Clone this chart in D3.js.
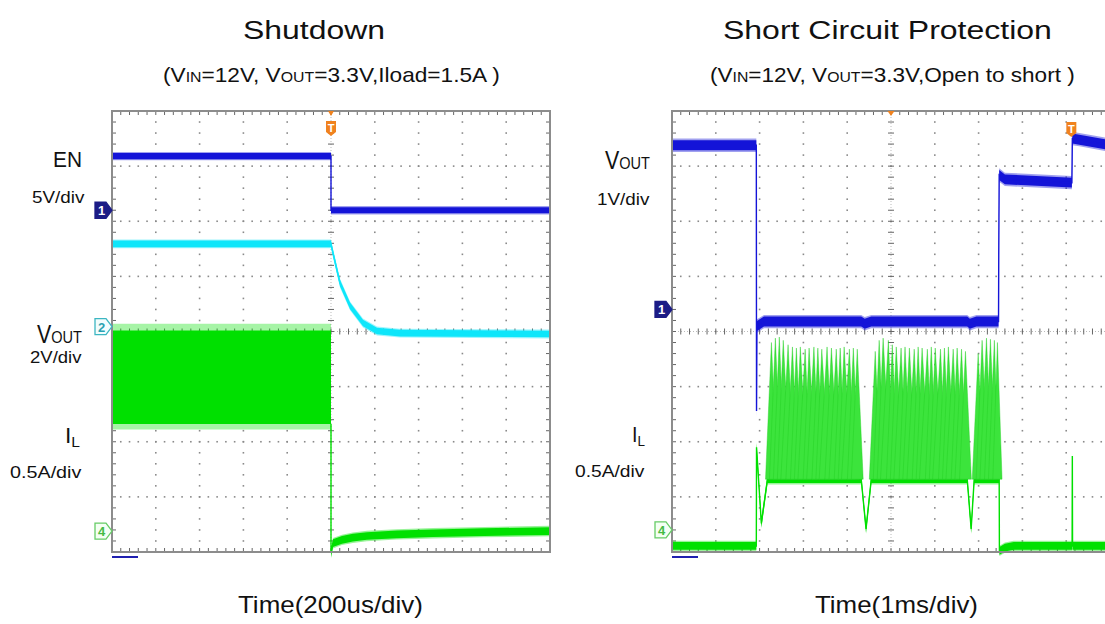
<!DOCTYPE html>
<html><head><meta charset="utf-8">
<script src="https://cdn.jsdelivr.net/npm/d3@7"></script>
<style>
body{margin:0;background:#fff;}
svg{display:block;}
text{font-family:"Liberation Sans",Arial,Helvetica,sans-serif;}
</style>
</head><body>
<svg id="c" width="1105" height="624"></svg>
<script>
// ---------------- DATA ----------------
const titles = ["Shutdown", "Short Circuit Protection"];
const xLabels = ["Time(200us/div)", "Time(1ms/div)"];

// Shutdown panel: time in µs (200 µs/div)
const sdEN_t = [-1000, 0, 0, 1000];
const sdEN_v = [4.9, 4.9, 0, 0];            // V, 5V/div
const sdEN_noise = 0.28;
const sdVout_t = [-1000, 0, 9, 41, 87, 146, 210, 315, 1000];
const sdVout_v = [3.0, 3.0, 2.67, 1.58, 0.75, 0.13, -0.16, -0.24, -0.27]; // V, 2V/div
const sdVout_noise = 0.12;
const sdILband_t = [-1000, 0];
const sdILband_min = [0.97, 0.97];           // A, 0.5A/div (switching ripple envelope)
const sdILband_max = [1.82, 1.82];
const sdIL_t = [0, 0, 9, 50, 100, 164, 300, 466, 700, 1000];
const sdIL_a = [0.97, -0.2, -0.11, -0.08, -0.06, -0.045, -0.03, -0.02, -0.01, 0];
const sdIL_noise = 0.035;

// Short circuit panel: time in ms (1 ms/div)
const scVout_t = [-5, -3.075, -3.07, -3.06, -2.9, -0.68, -0.6, -0.45, 1.74, 1.8, 1.95, 2.455, 2.46, 2.47, 2.6, 4.13, 4.14, 4.3, 5];
const scVout_v = [2.98, 2.98, -1.84, -0.3, -0.22, -0.22, -0.26, -0.22, -0.22, -0.26, -0.22, -0.22, 0.95, 2.44, 2.36, 2.3, 3.1, 3.08, 2.98]; // V, 1V/div
const scVout_noise = 0.09;
const scIL_t = [-5, -3.075, -3.07, -2.96, -2.82, -0.68, -0.57, -0.45, 1.74, 1.83, 1.90, 2.47, 2.475, 2.6, 2.8, 4.135, 4.14, 4.145, 5];
const scIL_a = [-0.145, -0.145, 0.75, 0.06, 0.46, 0.46, 0.01, 0.46, 0.46, 0.01, 0.46, 0.46, -0.19, -0.16, -0.145, -0.145, 0.67, -0.145, -0.145]; // A
const scIL_noise = 0.035;
// hiccup bursts: inductor current peaks
const burst1T = [-2.73,-2.64,-2.55,-2.46,-2.35,-2.25,-2.16,-2.07,-1.96,-1.87,-1.76,-1.67,-1.58,-1.46,-1.36,-1.25,-1.16,-1.07,-0.95,-0.86,-0.77];
const burst1A = [1.70,1.74,1.75,1.72,1.68,1.66,1.65,1.66,1.64,1.65,1.66,1.65,1.64,1.66,1.65,1.64,1.65,1.66,1.64,1.65,1.64];
const burst2T = [-0.36,-0.27,-0.18,-0.06,0.03,0.12,0.23,0.32,0.42,0.53,0.62,0.71,0.83,0.92,1.01,1.13,1.22,1.31,1.42,1.51,1.61,1.70];
const burst2A = [1.62,1.72,1.74,1.72,1.68,1.66,1.65,1.66,1.65,1.64,1.66,1.65,1.64,1.66,1.65,1.64,1.65,1.66,1.64,1.65,1.64,1.62];
const burst3T = [1.99,2.08,2.18,2.27,2.36,2.43];
const burst3A = [1.60,1.72,1.74,1.73,1.72,1.70];
const burstTrough = [0.46, 0.46, 0.46];

// channel settings (ground marker position in divisions, units per division)
const CH = {
  sdEN:  {offset: 2.2,   scale: 5},
  sdVout:{offset: 0.09,  scale: 2},
  sdIL:  {offset: -3.62, scale: 0.5},
  scVout:{offset: 0.4,   scale: 1},
  scIL:  {offset: -3.6,  scale: 0.5}
};

// ---------------- DRAWING ----------------
const svg = d3.select("#c");
svg.append("rect").attr("width",1105).attr("height",624).attr("fill","#fff");
const W = 438, H = 441;
const BLUE = "#1414d8", CYAN = "#0ee6fa", GREEN = "#00e000", ORANGE = "#f0821e";

function makePanel(left, top, xDomain) {
  const g = svg.append("g");
  const x = d3.scaleLinear().domain(xDomain).range([left, left + W]);
  const xd = d3.scaleLinear().domain([-5, 5]).range([left, left + W]);
  const y = d3.scaleLinear().domain([-4, 4]).range([top + H, top]);
  g.append("rect").attr("x", left).attr("y", top).attr("width", W).attr("height", H).attr("fill", "#fff");
  const minorX = d3.range(-25, 26).map(i => i / 5);
  const minorY = d3.range(-20, 21).map(i => i / 5);
  const dots = [];
  [-4,-3,-2,-1,1,2,3,4].forEach(d => minorY.forEach(m => dots.push([xd(d), y(m)])));
  [-3,-2,-1,1,2,3].forEach(d => minorX.forEach(m => dots.push([xd(m), y(d)])));
  g.append("g").selectAll("rect").data(dots).enter().append("rect")
    .attr("x", d => d[0] - 0.8).attr("y", d => d[1] - 0.8).attr("width", 1.6).attr("height", 1.6)
    .attr("fill", "#8a8a8a");
  // center cross
  g.append("line").attr("x1", xd(0)).attr("x2", xd(0)).attr("y1", top).attr("y2", top + H)
    .attr("stroke", "#aaa").attr("stroke-width", 0.8).attr("stroke-dasharray", "1,2");
  g.append("line").attr("x1", left).attr("x2", left + W).attr("y1", y(0)).attr("y2", y(0))
    .attr("stroke", "#aaa").attr("stroke-width", 0.8).attr("stroke-dasharray", "1,2");
  const tk = g.append("g").attr("stroke", "#666").attr("stroke-width", 1);
  minorY.forEach(m => {
    tk.append("line").attr("x1", xd(0) - 3).attr("x2", xd(0) + 3).attr("y1", y(m)).attr("y2", y(m));
    tk.append("line").attr("x1", left).attr("x2", left + 4).attr("y1", y(m)).attr("y2", y(m));
    tk.append("line").attr("x1", left + W - 4).attr("x2", left + W).attr("y1", y(m)).attr("y2", y(m));
  });
  minorX.forEach(m => {
    tk.append("line").attr("x1", xd(m)).attr("x2", xd(m)).attr("y1", y(0) - 3).attr("y2", y(0) + 3);
    tk.append("line").attr("x1", xd(m)).attr("x2", xd(m)).attr("y1", top).attr("y2", top + 4);
    tk.append("line").attr("x1", xd(m)).attr("x2", xd(m)).attr("y1", top + H - 4).attr("y2", top + H);
  });
  return {g, x, xd, y, left, top};
}

function chY(P, ch, v) { return P.y(ch.offset + v / ch.scale); }

function trace(P, ch, ts, vs, noise, color) {
  const d = ts.map((t, i) => ({t, v: vs[i]}));
  const halo = d3.area().x(p => P.x(p.t)).y0(p => chY(P, ch, p.v - noise * 1.35)).y1(p => chY(P, ch, p.v + noise * 1.35));
  const band = d3.area().x(p => P.x(p.t)).y0(p => chY(P, ch, p.v - noise)).y1(p => chY(P, ch, p.v + noise));
  const line = d3.line().x(p => P.x(p.t)).y(p => chY(P, ch, p.v));
  P.g.append("path").attr("d", halo(d)).attr("fill", color).attr("opacity", 0.4);
  P.g.append("path").attr("d", band(d)).attr("fill", color);
  P.g.append("path").attr("d", line(d)).attr("fill", "none").attr("stroke", color).attr("stroke-width", 1.4);
}

function chMarker(P, ch, label, fill, stroke, tcol) {
  const xe = P.left, yc = P.y(ch.offset);
  P.g.append("path").attr("d", `M${xe-17},${yc-8}H${xe-6}L${xe},${yc}L${xe-6},${yc+8}H${xe-17}Z`)
    .attr("fill", fill).attr("stroke", stroke).attr("stroke-width", 1.3);
  P.g.append("text").attr("x", xe - 10.5).attr("y", yc + 5).attr("text-anchor", "middle")
    .attr("font-size", 13).attr("font-weight", "bold").attr("fill", tcol).text(label);
}

function frame(P) {
  P.g.append("rect").attr("x", P.left).attr("y", P.top).attr("width", W).attr("height", H)
    .attr("fill", "none").attr("stroke", "#8c8c8c").attr("stroke-width", 2);
  P.g.append("line").attr("x1", P.left).attr("x2", P.left + 26).attr("y1", P.top + H + 5).attr("y2", P.top + H + 5)
    .attr("stroke", "#2020b0").attr("stroke-width", 2);
}

function tMarker(g, cx, y0) {
  g.append("path").attr("d", `M${cx-5},${y0}H${cx+5}V${y0+11}L${cx},${y0+15}L${cx-5},${y0+11}Z`).attr("fill", ORANGE);
  g.append("text").attr("x", cx).attr("y", y0 + 11).attr("text-anchor", "middle").attr("font-size", 11)
    .attr("font-weight", "bold").attr("fill", "#fff").text("T");
}

function fitText(x, baseline, width, parts) {
  const t = svg.append("text").attr("fill", "#111");
  parts.forEach(p => {
    const s = t.append("tspan").text(p.text).attr("font-size", p.size);
    if (p.dy) s.attr("dy", p.dy);
  });
  const w = t.node().getBBox().width;
  t.attr("transform", `translate(${x},${baseline}) scale(${width / w},1)`);
}

// ---- Left panel: Shutdown ----
const L = makePanel(112, 111, [-1000, 1000]);
{
  const ch = CH.sdIL;
  const d = sdILband_t.map((t, i) => ({t, lo: sdILband_min[i], hi: sdILband_max[i]}));
  const halo = d3.area().x(p => L.x(p.t)).y0(p => chY(L, ch, p.lo - 0.05)).y1(p => chY(L, ch, p.hi + 0.06));
  const band = d3.area().x(p => L.x(p.t)).y0(p => chY(L, ch, p.lo)).y1(p => chY(L, ch, p.hi));
  L.g.append("path").attr("d", halo(d)).attr("fill", GREEN).attr("opacity", 0.35);
  L.g.append("path").attr("d", band(d)).attr("fill", GREEN);
}
trace(L, CH.sdIL, sdIL_t, sdIL_a, sdIL_noise, GREEN);
trace(L, CH.sdEN, sdEN_t, sdEN_v, sdEN_noise, BLUE);
trace(L, CH.sdVout, sdVout_t, sdVout_v, sdVout_noise, CYAN);
frame(L);
L.g.append("path").attr("d", `M${L.xd(0)-3},${L.top}H${L.xd(0)+3}L${L.xd(0)},${L.top+5}Z`).attr("fill", ORANGE);
tMarker(L.g, L.xd(0), 121);
chMarker(L, CH.sdEN, "1", "#1c1c86", "#1c1c86", "#fff");
chMarker(L, CH.sdVout, "2", "#f2fdfd", "#3cb6c2", "#2aa2b2");
chMarker(L, CH.sdIL, "4", "#f4fff4", "#66cc66", "#44bb44");

// ---- Right panel: Short circuit ----
const R = makePanel(672, 111, [-5, 5]);
trace(R, CH.scIL, scIL_t, scIL_a, scIL_noise, GREEN);
{
  const ch = CH.scIL;
  const bursts = [[burst1T, burst1A], [burst2T, burst2A], [burst3T, burst3A]];
  bursts.forEach(([T, A], b) => {
    const tr = burstTrough[b];
    T.forEach((t, i) => {
      const dl = i > 0 ? t - T[i - 1] : T[1] - T[0];
      const dr = i < T.length - 1 ? T[i + 1] - t : t - T[i - 1];
      const pts = [[R.x(t - 1.5 * dl), chY(R, ch, tr)], [R.x(t), chY(R, ch, A[i])], [R.x(t + 1.5 * dr), chY(R, ch, tr)]];
      R.g.append("path").attr("d", d3.line()(pts) + "Z").attr("fill", "#3ce43c")
        .attr("stroke", "#22d022").attr("stroke-width", 0.6).attr("stroke-opacity", 0.7);
    });
  });
}
trace(R, CH.scVout, scVout_t, scVout_v, scVout_noise, BLUE);
frame(R);
R.g.append("path").attr("d", `M${R.xd(0)-3.5},${R.top}H${R.xd(0)+3.5}L${R.xd(0)},${R.top+5}Z`).attr("fill", ORANGE);
tMarker(R.g, R.x(4.14) - 1, 122);
chMarker(R, CH.scVout, "1", "#1c1c86", "#1c1c86", "#fff");
chMarker(R, CH.scIL, "4", "#f4fff4", "#66cc66", "#44bb44");

// ---- Texts ----
fitText(243, 39, 142, [{text: titles[0], size: 26}]);
fitText(723, 39, 329, [{text: titles[1], size: 26}]);
fitText(163, 82, 337, [{text: "(V", size: 20}, {text: "IN", size: 14}, {text: "=12V, V", size: 20}, {text: "OUT", size: 14}, {text: "=3.3V,Iload=1.5A )", size: 20}]);
fitText(710, 82, 365, [{text: "(V", size: 20}, {text: "IN", size: 14}, {text: "=12V, V", size: 20}, {text: "OUT", size: 14}, {text: "=3.3V,Open to short )", size: 20}]);

fitText(53, 167, 29, [{text: "EN", size: 22}]);
fitText(32, 203, 53, [{text: "5V/div", size: 17}]);
fitText(37, 343, 45, [{text: "V", size: 25}, {text: "OUT", size: 17}]);
fitText(30, 363, 52, [{text: "2V/div", size: 17}]);
fitText(65, 443, 15, [{text: "I", size: 22}, {text: "L", size: 15, dy: 4}]);
fitText(10, 478, 72, [{text: "0.5A/div", size: 17}]);

fitText(605, 169, 45, [{text: "V", size: 25}, {text: "OUT", size: 17}]);
fitText(597, 205, 53, [{text: "1V/div", size: 17}]);
fitText(632, 442, 13, [{text: "I", size: 22}, {text: "L", size: 15, dy: 4}]);
fitText(575, 477, 70, [{text: "0.5A/div", size: 17}]);

fitText(238, 613, 185, [{text: xLabels[0], size: 24}]);
fitText(815, 613, 163, [{text: xLabels[1], size: 24}]);
</script>
</body></html>
